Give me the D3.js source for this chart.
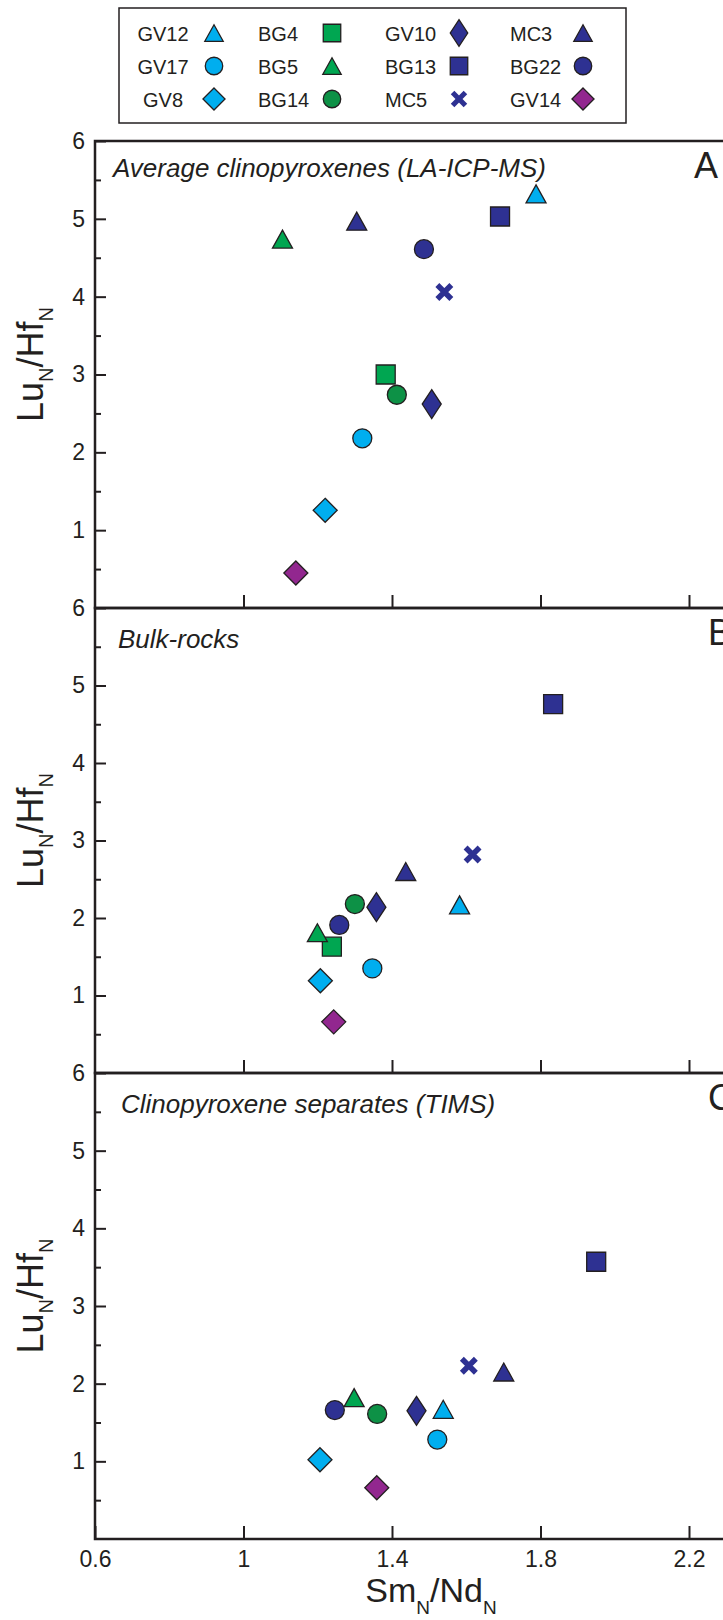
<!DOCTYPE html>
<html>
<head>
<meta charset="utf-8">
<script src="https://cdn.jsdelivr.net/npm/d3@7"></script>
<style>
  body { margin: 0; background: #fff; }
  svg { display: block; font-family: "Liberation Sans", Arial, sans-serif; }
</style>
</head>
<body>
<svg width="723" height="1620"></svg>
<script>
// samples, in legend order
const samples = ["GV12", "GV17", "GV8", "BG4", "BG5", "BG14", "GV10", "BG13", "MC5", "MC3", "BG22", "GV14"];
const shapes = ["triangle", "circle", "diamond", "square", "triangle", "circle", "tallDiamond", "square", "cross", "triangle", "circle", "diamond"];
const colors = ["#00aeef", "#00aeef", "#00aeef", "#00a651", "#00a651", "#0d9146", "#2e3192", "#2e3192", "#2e3192", "#2e3192", "#2e3192", "#92278f"];

// Sm_N/Nd_N and Lu_N/Hf_N per panel (null = not measured)
const panelTitles = ["Average clinopyroxenes (LA-ICP-MS)", "Bulk-rocks", "Clinopyroxene separates (TIMS)"];
const panelLetters = ["A", "B", "C"];
const smNdA = [1.788, 1.32, 1.22, 1.383, 1.105, 1.413, 1.507, 1.691, 1.541, 1.305, 1.486, 1.141];
const luHfA = [5.32, 2.18, 1.255, 3.00, 4.74, 2.74, 2.62, 5.03, 4.06, 4.97, 4.61, 0.45];
const smNdB = [1.582, 1.347, 1.207, 1.238, 1.199, 1.30, 1.358, 1.834, 1.617, 1.437, 1.258, 1.243];
const luHfB = [2.17, 1.35, 1.19, 1.63, 1.81, 2.18, 2.14, 4.76, 2.82, 2.60, 1.91, 0.66];
const smNdC = [1.538, 1.522, 1.206, null, 1.298, 1.360, 1.466, 1.95, 1.607, 1.701, 1.246, 1.359];
const luHfC = [1.67, 1.28, 1.02, null, 1.82, 1.61, 1.65, 3.57, 2.23, 2.15, 1.66, 0.66];

const xTicks = [1, 1.4, 1.8, 2.2];
const yTicks = [1, 2, 3, 4, 5, 6];
const yMinor = [0.5, 1.5, 2.5, 3.5, 4.5, 5.5];

const ink = "#231f20";
const svg = d3.select("svg");

// layout
const panelTop = [141, 608, 1073];
const panelBottom = [608, 1073, 1539];
const titleX = [113, 118, 121];
const titleDy = [36, 40, 40];
const letterX = [694, 708, 708];

const x = d3.scaleLinear().domain([0.6, 2.2]).range([95, 689]);

// marker paths centred on 0,0
function symbolPath(shape, k) {
  const p = d3.path();
  if (shape === "triangle") {
    p.moveTo(0, -9 * k); p.lineTo(10 * k, 9 * k); p.lineTo(-10 * k, 9 * k); p.closePath();
  } else if (shape === "circle") {
    p.arc(0, 0, 9.5 * k, 0, 2 * Math.PI);
  } else if (shape === "square") {
    p.rect(-9.5 * k, -9.5 * k, 19 * k, 19 * k);
  } else if (shape === "diamond") {
    p.moveTo(0, -12 * k); p.lineTo(12 * k, 0); p.lineTo(0, 12 * k); p.lineTo(-12 * k, 0); p.closePath();
  } else if (shape === "tallDiamond") {
    p.moveTo(0, -14.5 * k); p.lineTo(9.5 * k, 0); p.lineTo(0, 14.5 * k); p.lineTo(-9.5 * k, 0); p.closePath();
  } else if (shape === "cross") {
    p.moveTo(-7 * k, -7 * k); p.lineTo(7 * k, 7 * k);
    p.moveTo(7 * k, -7 * k); p.lineTo(-7 * k, 7 * k);
  }
  return p.toString();
}

function drawMarker(g, i, k) {
  const shape = shapes[i];
  if (shape === "cross") {
    g.append("path").attr("d", symbolPath(shape, k))
      .attr("fill", "none").attr("stroke", colors[i]).attr("stroke-width", 5.5 * k);
  } else {
    g.append("path").attr("d", symbolPath(shape, k))
      .attr("fill", colors[i]).attr("stroke", ink).attr("stroke-width", 1.3);
  }
}

const panelData = [[smNdA, luHfA], [smNdB, luHfB], [smNdC, luHfC]];

panelData.forEach(([xs, ys], p) => {
  const top = panelTop[p], bottom = panelBottom[p];
  const y = d3.scaleLinear().domain([0, 6]).range([bottom, top]);
  const g = svg.append("g");

  // frame (right side runs off the page)
  g.append("rect")
    .attr("x", x(0.6)).attr("y", top)
    .attr("width", x(2.45) - x(0.6)).attr("height", bottom - top)
    .attr("fill", "none").attr("stroke", ink).attr("stroke-width", 2.5);

  // y axis, ticks inward
  const yAxis = g.append("g").attr("transform", `translate(${x(0.6)},0)`)
    .call(d3.axisLeft(y).tickValues(yTicks).tickSizeInner(-11).tickSizeOuter(0).tickPadding(10).tickFormat(d3.format("d")));
  yAxis.select(".domain").remove();
  yAxis.selectAll("line").attr("stroke", ink).attr("stroke-width", 2);
  yAxis.selectAll("text").attr("fill", ink).style("font-size", "23px").attr("font-family", "Liberation Sans, Arial, sans-serif");

  const yMinorAxis = g.append("g").attr("transform", `translate(${x(0.6)},0)`)
    .call(d3.axisLeft(y).tickValues(yMinor).tickSizeInner(-6).tickSizeOuter(0).tickFormat(""));
  yMinorAxis.select(".domain").remove();
  yMinorAxis.selectAll("line").attr("stroke", ink).attr("stroke-width", 2);

  // x axis on bottom edge, ticks inward
  const last = p === panelData.length - 1;
  const xAxis = g.append("g").attr("transform", `translate(0,${bottom})`)
    .call(d3.axisBottom(x).tickValues(last ? [0.6].concat(xTicks) : xTicks)
      .tickSizeInner(-13).tickSizeOuter(0).tickPadding(12)
      .tickFormat(last ? d3.format("") : ""));
  xAxis.select(".domain").remove();
  xAxis.selectAll("line").attr("stroke", ink).attr("stroke-width", 2);
  xAxis.selectAll("text").attr("fill", ink).style("font-size", "23px").attr("font-family", "Liberation Sans, Arial, sans-serif");

  // y title
  const yt = g.append("text")
    .attr("transform", `translate(43,${(top + bottom) / 2 - 10}) rotate(-90)`)
    .attr("text-anchor", "middle").attr("fill", ink).style("font-size", "36px");
  yt.append("tspan").text("Lu");
  yt.append("tspan").text("N").style("font-size", "20px").attr("dy", 10);
  yt.append("tspan").text("/Hf").attr("dy", -10);
  yt.append("tspan").text("N").style("font-size", "20px").attr("dy", 10);

  // panel title and letter
  g.append("text").attr("x", titleX[p]).attr("y", top + titleDy[p])
    .attr("fill", ink).style("font-size", "26px").style("font-style", "italic")
    .text(panelTitles[p]);
  g.append("text").attr("x", letterX[p]).attr("y", top + 37)
    .attr("fill", ink).style("font-size", "36px")
    .text(panelLetters[p]);

  // points
  samples.forEach((s, i) => {
    if (xs[i] == null || ys[i] == null) return;
    const m = g.append("g").attr("transform", `translate(${x(xs[i])},${y(ys[i])})`);
    drawMarker(m, i, 1);
  });
});

// x title
const xt = svg.append("text")
  .attr("x", 431).attr("y", 1602).attr("text-anchor", "middle")
  .attr("fill", ink).style("font-size", "34px");
xt.append("tspan").text("Sm");
xt.append("tspan").text("N").style("font-size", "19px").attr("dy", 12);
xt.append("tspan").text("/Nd").attr("dy", -12);
xt.append("tspan").text("N").style("font-size", "19px").attr("dy", 12);

// legend
const legendCols = [
  { labelX: 163, anchor: "middle", markX: 214 },
  { labelX: 258, anchor: "start", markX: 332 },
  { labelX: 385, anchor: "start", markX: 459 },
  { labelX: 510, anchor: "start", markX: 583 }
];
const legendRows = [33, 66, 99];

svg.append("rect")
  .attr("x", 119).attr("y", 8).attr("width", 507).attr("height", 115)
  .attr("fill", "#fff").attr("stroke", ink).attr("stroke-width", 1.5);

samples.forEach((s, i) => {
  const col = legendCols[Math.floor(i / 3)];
  const rowY = legendRows[i % 3];
  svg.append("text")
    .attr("x", col.labelX).attr("y", rowY + 8)
    .attr("text-anchor", col.anchor)
    .attr("fill", ink).style("font-size", "20px")
    .text(s);
  const m = svg.append("g").attr("transform", `translate(${col.markX},${rowY})`);
  drawMarker(m, i, 0.92);
});
</script>
</body>
</html>
